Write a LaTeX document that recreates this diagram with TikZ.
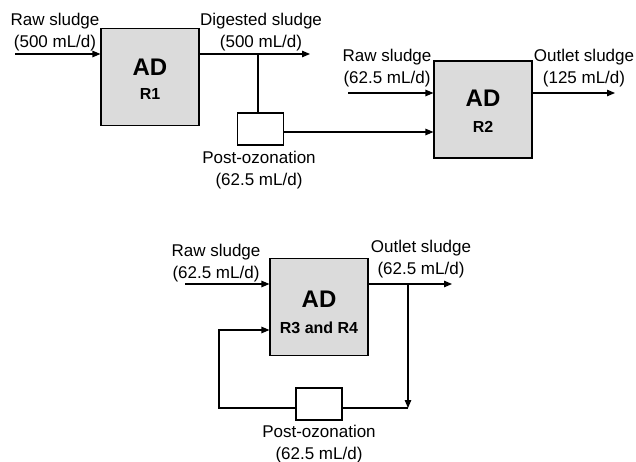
\documentclass[tikz,border=0pt]{standalone}
\usepackage{fontspec}
\setmainfont{Liberation Sans}
\usetikzlibrary{arrows.meta}
\tikzset{
  adbox/.style={draw, line width=1.1pt, fill=black!14, minimum width=98pt, minimum height=97pt, inner sep=0pt},
  ozbox/.style={draw, line width=1.1pt, fill=white, minimum width=46pt, minimum height=32pt, inner sep=0pt},
  flow/.style={line width=1.1pt},
  arr/.style={flow, -{Triangle[length=8pt,width=6.5pt]}},
  lbl/.style={align=center, font=\fontsize{17}{21.5}\selectfont, inner sep=0pt},
  adbig/.style={font=\fontsize{24}{24}\selectfont\bfseries, inner sep=0pt},
  adsmall/.style={font=\fontsize{16}{16}\selectfont\bfseries, inner sep=0pt}
}
\begin{document}
\begin{tikzpicture}[x=1pt,y=-1pt]
\useasboundingbox (0,0) rectangle (636,462);
% boxes
\node[adbox] (r1) at (150,77) {};
\node[adbox] (r2) at (483,109.5) {};
\node[adbox] (r3) at (319,307) {};
\node[ozbox] (oz1) at (260.5,129) {};
\node[ozbox] (oz2) at (319,404) {};
% box texts
\node[adbig] (t1a) at (150,67) {AD};
\node[adsmall] (t1b) at (150,94) {R1};
\node[adbig] (t2a) at (483,98) {AD};
\node[adsmall] (t2b) at (483,127) {R2};
\node[adbig] (t3a) at (319,299) {AD};
\node[adsmall] (t3b) at (319,328) {R3 and R4};
% labels
\node[lbl] (l1) at (55,32) {Raw sludge\\(500 mL/d)};
\node[lbl] (l2) at (261,32) {Digested sludge\\(500 mL/d)};
\node[lbl] (l3) at (259,170) {Post-ozonation\\(62.5 mL/d)};
\node[lbl] (l4) at (387,68) {Raw sludge\\(62.5 mL/d)};
\node[lbl] (l5) at (584,68) {Outlet sludge\\(125 mL/d)};
\node[lbl] (l6) at (216,263) {Raw sludge\\(62.5 mL/d)};
\node[lbl] (l7) at (421,259) {Outlet sludge\\(62.5 mL/d)};
\node[lbl] (l8) at (319,444) {Post-ozonation\\(62.5 mL/d)};
% coordinates
\coordinate (in1) at (15,54);
\coordinate (out1) at (310,54);
\coordinate (br1) at (258,54);
\coordinate (in2) at (348,93);
\coordinate (out2) at (615,93);
\coordinate (in3) at (185,284);
\coordinate (out3) at (452,284);
\coordinate (br3) at (408,284);
\coordinate (low3) at (408,408);
\coordinate (ret3) at (219,330);
% connectors
\draw[arr] (in1) -- (in1 -| r1.west);
\draw[arr] (r1.east |- out1) -- (out1);
\draw[flow] (br1) -- (br1 |- oz1.north);
\draw[arr] (oz1.east |- 0,132) -- (r2.west |- 0,132);
\draw[arr] (in2) -- (in2 -| r2.west);
\draw[arr] (r2.east |- out2) -- (out2);
\draw[arr] (in3) -- (in3 -| r3.west);
\draw[arr] (r3.east |- out3) -- (out3);
\draw[arr] (br3) -- (low3);
\draw[flow] (low3) -- (low3 -| oz2.east);
\draw[arr] (low3 -| oz2.west) -| (ret3) -- (ret3 -| r3.west);
\end{tikzpicture}
\end{document}
